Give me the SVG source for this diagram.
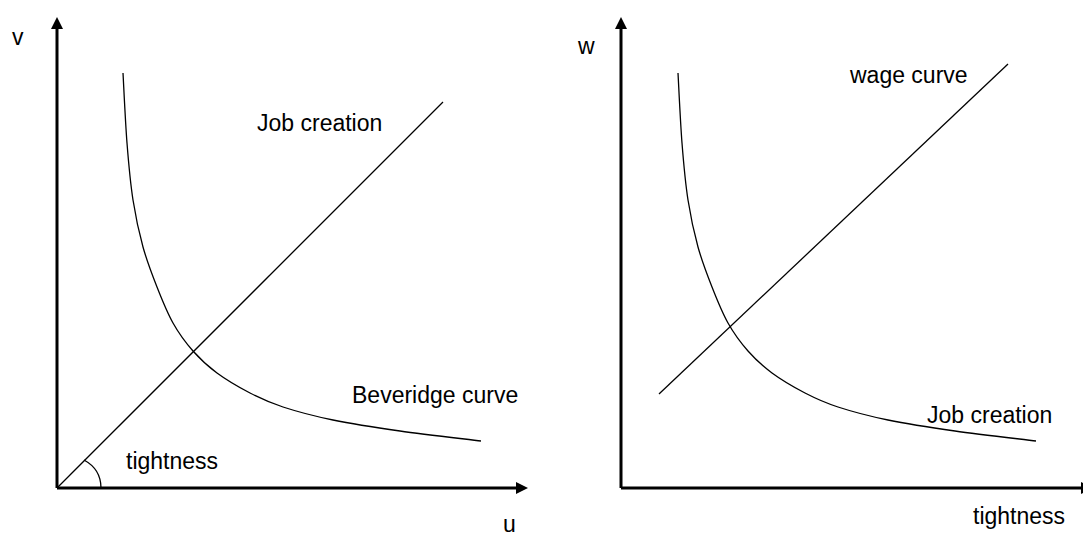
<svg xmlns="http://www.w3.org/2000/svg" width="1083" height="536" viewBox="0 0 1083 536">
<style>
.axis{stroke:#000;stroke-width:3;fill:none;marker-end:url(#arr)}
.curve{stroke:#000;stroke-width:1.3;fill:none}
text{font-family:"Liberation Sans",Arial,sans-serif;font-size:23px;fill:#000}
</style>
<defs>
<marker id="arr" markerUnits="userSpaceOnUse" markerWidth="13" markerHeight="12" refX="0" refY="6" orient="auto" overflow="visible">
<path d="M0,0 L12,6 L0,12 Z" fill="#000"/>
</marker>
<path id="hyp" d="M123,73 C123.67,84.7 125.33,121.8 127,143 C128.67,164.2 130.33,182.7 133,200 C135.67,217.3 139,232.5 143,247 C147,261.5 152,274.3 157,287 C162,299.7 167,312.3 173,323 C179,333.7 185.7,342.7 193,351 C200.3,359.3 207.5,366 217,373 C226.5,380 239,387.3 250,393 C261,398.7 269.2,402.5 283,407 C296.8,411.5 313.5,416 333,420 C352.5,424 375.3,427.5 400,431 C424.7,434.5 467.5,439.3 481,441"/>
</defs>
<g id="left-chart">
<g id="left-axes">
<path class="axis" d="M57,488 L57,29"/>
<path class="axis" d="M57,488 L516,488"/>
</g>
<g id="left-curves">
<path class="curve" d="M57,488 L443,102"/>
<use href="#hyp" class="curve"/>
<path class="curve" d="M84,460 C95,466 101,476 101,488"/>
</g>
<g id="left-labels">
<text x="12" y="45">v</text>
<text x="503" y="532">u</text>
<text x="257" y="131">Job creation</text>
<text x="352" y="403">Beveridge curve</text>
<text x="126" y="469">tightness</text>
</g>
</g>
<g id="right-chart">
<g id="right-axes">
<path class="axis" d="M621,488 L621,29"/>
<path class="axis" d="M621,488 L1081,488"/>
</g>
<g id="right-curves">
<path class="curve" d="M659,394 L1008,64"/>
<use href="#hyp" class="curve" transform="translate(555,0)"/>
</g>
<g id="right-labels">
<text x="578" y="54">w</text>
<text x="850" y="83">wage curve</text>
<text x="927" y="423">Job creation</text>
<text x="973" y="524">tightness</text>
</g>
</g>
</svg>
